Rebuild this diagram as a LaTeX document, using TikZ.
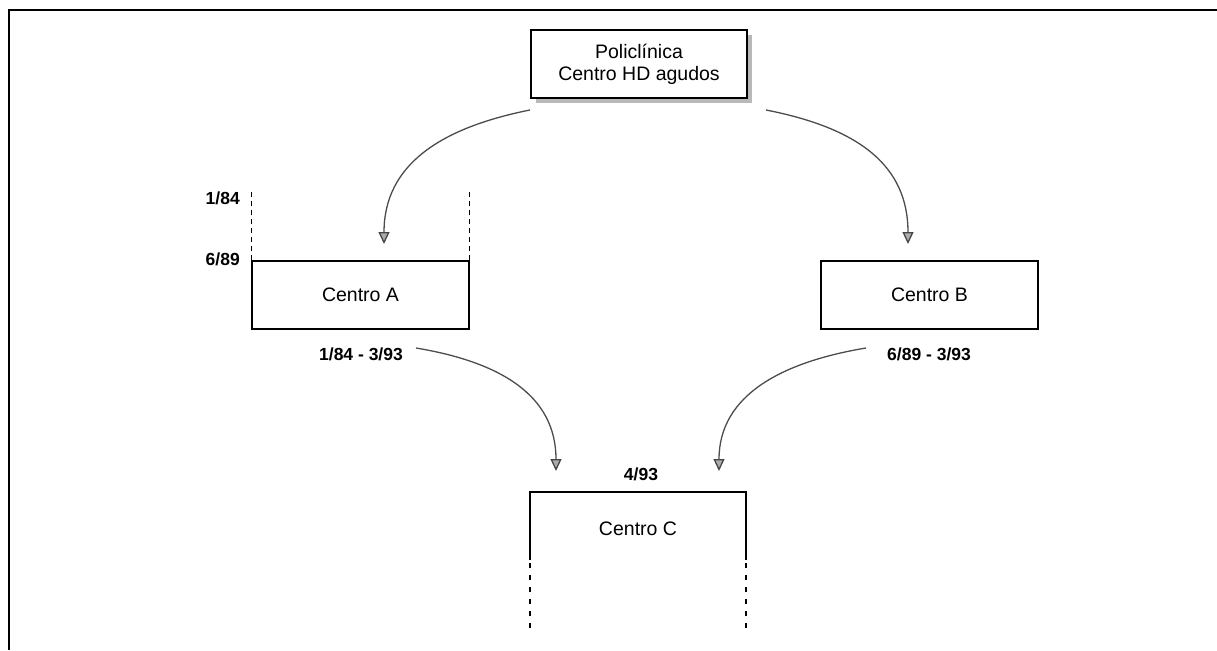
\documentclass[tikz,border=0pt]{standalone}
\usepackage{fontspec}
\setmainfont{Liberation Sans}
\usetikzlibrary{arrows.meta}
\begin{document}
\begin{tikzpicture}[x=1pt,y=-1pt,
  box/.style={draw, line width=1.2pt, fill=white, minimum width=217pt, minimum height=68pt, inner sep=0pt, font=\fontsize{19.5}{22}\selectfont, align=center},
  lbl/.style={font=\bfseries\fontsize{17.5}{20}\selectfont, inner sep=0pt},
  flow/.style={draw=gray!60!black, line width=1.3pt, -{Triangle[width=11pt,length=12pt,fill=gray!65,color=gray!55!black]}},
  dashA/.style={line width=1.2pt, dash pattern=on 5pt off 4pt},
  dashC/.style={line width=1.2pt, dash pattern=on 5pt off 7pt},
  frame/.style={line width=1.6pt}]
\useasboundingbox (0,0) rectangle (1217,650);
% frame (top and left only)
\draw[frame] (1217,10) -- (9,10) -- (9,650);
% Policlinica box with shadow
\fill[gray!55] (536,35) rectangle (752,103);
\node[box, minimum width=216pt] (poli) at (639,64) {Policlínica\\Centro HD agudos};
% Centro A
\node[box] (A) at (360.5,295) {Centro A};
\draw[dashA] (A.north west) -- ++(0,-69);
\draw[dashA] (A.north east) -- ++(0,-69);
\node[lbl, anchor=east] (la1) at (240,198) {1/84};
\node[lbl, anchor=east] (la2) at (240,259) {6/89};
\node[lbl] (la3) at (361,354) {1/84 - 3/93};
% Centro B
\node[box] (B) at (929.5,295) {Centro B};
\node[lbl] (lb) at (929,354) {6/89 - 3/93};
% Centro C (open at bottom)
\coordinate (Cnw) at (530,492);
\coordinate (Cne) at (746,492);
\coordinate (Csw) at (530,560);
\coordinate (Cse) at (746,560);
\draw[line width=1.2pt] (Csw) -- (Cnw) -- (Cne) -- (Cse);
\draw[dashC] (Csw) ++(0,3) -- (530,634);
\draw[dashC] (Cse) ++(0,3) -- (746,634);
\node[font=\fontsize{19.5}{22}\selectfont, inner sep=0pt] (C) at (638,529) {Centro C};
\node[lbl] (lc) at (641,474) {4/93};
% arrows
\coordinate (p1) at (530,110);
\coordinate (p2) at (766,110);
\coordinate (tA) at (384,244);
\coordinate (tB) at (908,244);
\coordinate (a1) at (416,348);
\coordinate (b1) at (866,348);
\coordinate (tC1) at (556,471);
\coordinate (tC2) at (719,471);
\draw[flow] (p1) .. controls (440,128) and (384,165) .. (tA);
\draw[flow] (p2) .. controls (858,128) and (908,165) .. (tB);
\draw[flow] (a1) .. controls (500,362) and (556,395) .. (tC1);
\draw[flow] (b1) .. controls (782,362) and (719,395) .. (tC2);
\end{tikzpicture}
\end{document}
